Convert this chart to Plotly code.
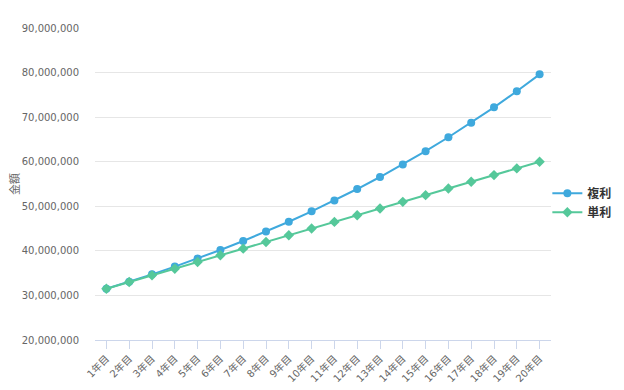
import plotly.graph_objects as go

categories = [f"{i}年目" for i in range(1, 21)]
compound = [31500000, 33075000, 34728750, 36465188, 38288447, 40202869, 42213013,
            44323663, 46539846, 48866839, 51310181, 53875690, 56569475, 59397948,
            62367846, 65486238, 68760550, 72198577, 75808506, 79598932]
simple = [31500000, 33000000, 34500000, 36000000, 37500000, 39000000, 40500000,
          42000000, 43500000, 45000000, 46500000, 48000000, 49500000, 51000000,
          52500000, 54000000, 55500000, 57000000, 58500000, 60000000]
y_ticks = [20000000, 30000000, 40000000, 50000000, 60000000, 70000000, 80000000, 90000000]

FONT = "DejaVu Sans, Noto Sans CJK JP, sans-serif"

fig = go.Figure()
fig.add_trace(go.Scatter(
    x=categories, y=compound, name="複利", mode="lines+markers",
    line=dict(color="#3fa9dd", width=2),
    marker=dict(symbol="circle", size=8, color="#3fa9dd"),
))
fig.add_trace(go.Scatter(
    x=categories, y=simple, name="単利", mode="lines+markers",
    line=dict(color="#55c89a", width=2),
    marker=dict(symbol="diamond", size=8, color="#55c89a"),
))

fig.update_layout(
    width=616, height=382,
    margin=dict(l=87, r=73, t=20, b=50, autoexpand=False),
    paper_bgcolor="white", plot_bgcolor="white",
    font=dict(family=FONT, size=10, color="#666666"),
    showlegend=True,
    legend=dict(x=0.992, xanchor="left", y=0.44, yanchor="middle",
                font=dict(family=FONT, size=12, color="#333333", weight="bold"),
                bgcolor="rgba(0,0,0,0)", tracegroupgap=0, itemwidth=30),
    xaxis=dict(
        type="category", range=[-0.5, 19.5], tickangle=-45,
        showgrid=False, showline=True, linecolor="#ccd6eb", linewidth=1,
        ticks="outside", ticklen=8, tickcolor="#ccd6eb",
        tickfont=dict(size=10, color="#666666"), automargin=False,
        zeroline=False,
    ),
    yaxis=dict(
        range=[20000000, 90000000], tickvals=y_ticks,
        tickformat=",d", showgrid=True, gridcolor="#e6e6e6", gridwidth=1,
        zeroline=False, showline=False, ticks="", ticklabelstandoff=15,
        tickfont=dict(size=10, color="#666666"), automargin=False,
        title=dict(text="金額", font=dict(size=11, color="#666666"), standoff=9),
    ),
)

fig.write_html("out.html")
